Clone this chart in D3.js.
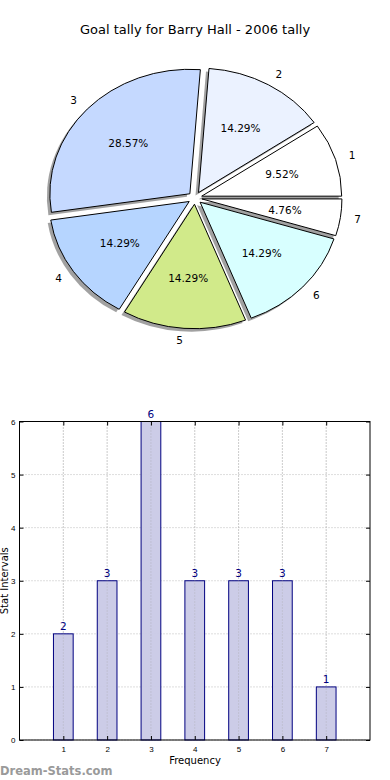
<!DOCTYPE html>
<html>
<head>
<meta charset="utf-8">
<script src="https://cdn.jsdelivr.net/npm/d3@7"></script>
<style>
  body { margin: 0; background: #fff; }
  svg { display: block; font-family: "DejaVu Sans", sans-serif; }
</style>
</head>
<body>
<script>
'use strict';

// chart data
const categories = ['1', '2', '3', '4', '5', '6', '7'];
const counts = [2, 3, 6, 3, 3, 3, 1];
const pieColors = ['#ffffff', '#ebf2ff', '#c5d9ff', '#b6d5ff', '#d1ea8a', '#d8ffff', '#ffffff'];
const yTicks = [0, 1, 2, 3, 4, 5, 6];
const title = 'Goal tally for Barry Hall - 2006 tally';

const svg = d3.select('body').append('svg')
  .attr('width', 390)
  .attr('height', 780);

// title
svg.append('text')
  .attr('x', 195)
  .attr('y', 34)
  .attr('text-anchor', 'middle')
  .style('font-size', '13px')
  .text(title);

// ---- pie (elliptical, like the matplotlib original) ----
const cx = 195, cy = 198, rx = 140, ry = 124.5;
const explode = 0.05;
const total = d3.sum(counts);

// matplotlib starts at 3 o'clock and goes counter-clockwise
const pie = d3.pie().sort(null)
  .startAngle(Math.PI / 2)
  .endAngle(Math.PI / 2 - 2 * Math.PI);
const arcs = pie(counts);
const arc = d3.arc().innerRadius(0).outerRadius(1);

const pieG = svg.append('g');

// offset of each exploded wedge
function wedgePos(a) {
  const mid = (a.startAngle + a.endAngle) / 2;   // d3 angle: 0 at top, clockwise
  const ux = Math.sin(mid), uy = -Math.cos(mid);
  return { ux: ux, uy: uy, ox: cx + explode * rx * ux, oy: cy + explode * ry * uy };
}

// shadows first
arcs.forEach((a) => {
  const p = wedgePos(a);
  pieG.append('path')
    .attr('d', arc(a))
    .attr('transform', `translate(${p.ox - 3},${p.oy + 3}) scale(${rx},${ry})`)
    .attr('fill', '#444')
    .attr('opacity', 0.5);
});

arcs.forEach((a, i) => {
  const p = wedgePos(a);

  pieG.append('path')
    .attr('d', arc(a))
    .attr('transform', `translate(${p.ox},${p.oy}) scale(${rx},${ry})`)
    .attr('fill', pieColors[i])
    .attr('stroke', '#000')
    .attr('stroke-width', 1)
    .attr('vector-effect', 'non-scaling-stroke');

  // outer label
  pieG.append('text')
    .attr('x', p.ox + 1.1 * rx * p.ux)
    .attr('y', p.oy + 1.1 * ry * p.uy)
    .attr('dy', '0.35em')
    .attr('text-anchor', p.ux > 0 ? 'start' : 'end')
    .style('font-size', '10.5px')
    .text(categories[i]);

  // percent label
  pieG.append('text')
    .attr('x', p.ox + 0.6 * rx * p.ux)
    .attr('y', p.oy + 0.6 * ry * p.uy)
    .attr('dy', '0.35em')
    .attr('text-anchor', 'middle')
    .style('font-size', '10.5px')
    .text((counts[i] / total * 100).toFixed(2) + '%');
});

// ---- bar chart ----
const plot = { left: 19.5, right: 370, top: 421.5, bottom: 740 };

const x = d3.scaleLinear().domain([0, 8]).range([plot.left, plot.right]);
const y = d3.scaleLinear().domain([0, 6]).range([plot.bottom, plot.top]);
const barW = 0.45;

const barG = svg.append('g');

// grid
barG.selectAll('.vgrid')
  .data(categories)
  .enter()
  .append('line')
  .attr('x1', d => x(+d)).attr('x2', d => x(+d))
  .attr('y1', plot.top).attr('y2', plot.bottom)
  .attr('stroke', '#bbb')
  .attr('stroke-dasharray', '1,2');

barG.selectAll('.hgrid')
  .data(yTicks)
  .enter()
  .append('line')
  .attr('x1', plot.left).attr('x2', plot.right)
  .attr('y1', d => y(d)).attr('y2', d => y(d))
  .attr('stroke', '#bbb')
  .attr('stroke-dasharray', '1,2');

// bars
barG.selectAll('.bar')
  .data(counts)
  .enter()
  .append('rect')
  .attr('x', (d, i) => x(i + 1 - barW / 2))
  .attr('y', d => y(d))
  .attr('width', x(barW) - x(0))
  .attr('height', d => y(0) - y(d))
  .attr('fill', '#c9c9e6')
  .attr('fill-opacity', 0.95)
  .attr('stroke', '#000080')
  .attr('stroke-width', 1);

// vertical grid again over the bars
barG.selectAll('.vgrid2')
  .data(categories)
  .enter()
  .append('line')
  .attr('x1', d => x(+d)).attr('x2', d => x(+d))
  .attr('y1', plot.top).attr('y2', plot.bottom)
  .attr('stroke', '#aaa')
  .attr('stroke-opacity', 0.6)
  .attr('stroke-dasharray', '1,2');

// value labels
barG.selectAll('.val')
  .data(counts)
  .enter()
  .append('text')
  .attr('x', (d, i) => x(i + 1))
  .attr('y', d => y(d) - 4)
  .attr('text-anchor', 'middle')
  .attr('fill', '#000080')
  .style('font-size', '10.5px')
  .text(d => d);

// axes with inward ticks
const xAxis = d3.axisBottom(x).tickValues(categories.map(Number))
  .tickSizeInner(-4).tickSizeOuter(0).tickPadding(6)
  .tickFormat(d3.format('d'));
barG.append('g')
  .attr('transform', `translate(0,${plot.bottom})`)
  .call(xAxis)
  .call(g => g.select('.domain').remove())
  .call(g => g.selectAll('text').style('font-size', '8px').attr('fill', '#000'));

const yAxis = d3.axisLeft(y).tickValues(yTicks)
  .tickSizeInner(-4).tickSizeOuter(0).tickPadding(4)
  .tickFormat(d3.format('d'));
barG.append('g')
  .attr('transform', `translate(${plot.left},0)`)
  .call(yAxis)
  .call(g => g.select('.domain').remove())
  .call(g => g.selectAll('text').style('font-size', '8px').attr('fill', '#000'));

// top and right ticks
barG.append('g')
  .attr('transform', `translate(0,${plot.top})`)
  .call(d3.axisTop(x).tickValues(categories.map(Number)).tickSizeInner(-4).tickSizeOuter(0).tickFormat(''))
  .call(g => g.select('.domain').remove());
barG.append('g')
  .attr('transform', `translate(${plot.right},0)`)
  .call(d3.axisRight(y).tickValues(yTicks).tickSizeInner(-4).tickSizeOuter(0).tickFormat(''))
  .call(g => g.select('.domain').remove());

// frame
barG.append('rect')
  .attr('x', plot.left)
  .attr('y', plot.top)
  .attr('width', plot.right - plot.left)
  .attr('height', plot.bottom - plot.top)
  .attr('fill', 'none')
  .attr('stroke', '#000')
  .attr('stroke-width', 1);

// axis labels
svg.append('text')
  .attr('x', 195)
  .attr('y', 764)
  .attr('text-anchor', 'middle')
  .style('font-size', '10px')
  .text('Frequency');

svg.append('text')
  .attr('transform', `translate(8,${(plot.top + plot.bottom) / 2}) rotate(-90)`)
  .attr('text-anchor', 'middle')
  .style('font-size', '10px')
  .text('Stat Intervals');

// watermark
svg.append('text')
  .attr('x', 0)
  .attr('y', 775)
  .attr('fill', '#9a9a9a')
  .style('font-size', '11.5px')
  .style('font-weight', 'bold')
  .text('Dream-Stats.com');
</script>
</body>
</html>
